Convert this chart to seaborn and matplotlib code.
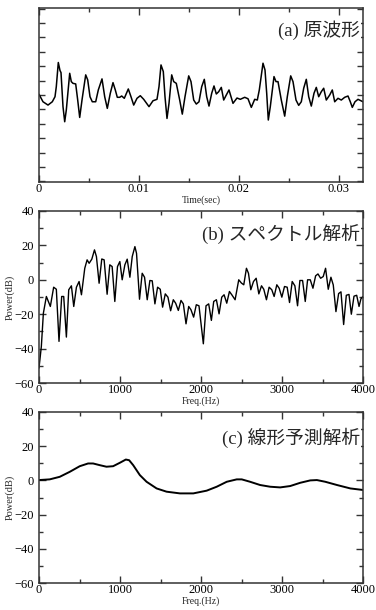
import numpy as np
import pandas as pd
import seaborn as sns
import matplotlib
matplotlib.use("Agg")
import matplotlib.pyplot as plt
from matplotlib.ticker import MultipleLocator, FuncFormatter

# ---------------- data ----------------
# (a) waveform: time in ms, amplitude (arbitrary units)
wave_t_ms = [0.0, 0.4, 0.9, 1.33, 1.6, 1.73, 1.93, 2.1, 2.2, 2.4, 2.57, 2.73, 3.07, 3.23, 3.4, 3.67,
             3.87, 4.07, 4.3, 4.67, 4.87, 5.1, 5.33, 5.67, 5.93, 6.3, 6.57, 6.83, 7.13, 7.4, 7.63,
             7.83, 8.07, 8.27, 8.53, 8.93, 9.2, 9.47, 9.8, 10.13, 10.47, 11.0, 11.4, 11.8, 12.0,
             12.2, 12.43, 12.6, 12.8, 13.0, 13.27, 13.47, 13.73, 14.07, 14.33, 14.6, 14.97, 15.2,
             15.47, 15.73, 16.0, 16.27, 16.53, 16.77, 17.0, 17.27, 17.5, 17.73, 17.97, 18.23,
             18.47, 18.73, 19.0, 19.4, 19.8, 20.13, 20.57, 20.9, 21.23, 21.57, 21.83, 22.03, 22.4,
             22.6, 22.77, 22.93, 23.13, 23.5, 23.7, 23.9, 24.23, 24.57, 24.83, 25.17, 25.4, 25.7,
             25.97, 26.23, 26.47, 26.73, 26.97, 27.23, 27.5, 27.73, 27.97, 28.23, 28.47, 28.73,
             29.07, 29.33, 29.57, 29.9, 30.23, 30.57, 30.9, 31.13, 31.33, 31.6, 31.9, 32.4]
wave_amp = [0.05, -0.47, -0.70, -0.47, -0.12, 0.58, 2.26, 1.70, 1.56, -0.81, -1.86, -1.05, 1.51,
            0.93, 0.81, 0.77, -0.35, -1.56, -0.35, 1.40, 1.05, -0.12, -0.47, -0.47, 0.35, 1.12,
            -0.12, -0.93, 0.12, 0.86, 0.35, -0.16, -0.16, -0.07, -0.23, 0.42, -0.12, -0.70, -0.23,
            -0.05, -0.30, -0.81, -0.40, -0.30, 0.58, 2.09, 1.63, -0.12, -1.63, -0.58, 1.40, 0.93,
            0.81, -0.35, -1.33, -0.12, 1.33, 0.93, -0.35, -0.63, -0.47, 0.58, 1.09, -0.12, -0.77,
            0.12, 0.63, 0.07, 0.23, 0.53, -0.35, 0.0, 0.35, -0.58, -0.21, -0.30, -0.16, -0.26,
            -0.86, -0.30, -0.35, 0.35, 2.21, 1.74, 0.12, -1.74, -0.81, 1.28, 0.93, 0.93, -0.35,
            -1.47, -0.12, 1.33, 0.93, -0.35, -0.72, -0.47, 0.47, 1.09, -0.12, -0.77, 0.12, 0.53,
            -0.12, 0.23, 0.47, -0.35, 0.0, 0.35, -0.47, -0.23, -0.35, -0.16, -0.07, -0.47, -0.86,
            -0.47, -0.30, -0.47]

# (b) FFT spectrum: Hz, dB
spec_f = [0, 29, 54, 91, 140, 181, 214, 247, 280, 305, 338, 367, 400, 429, 462, 495, 524, 565,
          594, 619, 652, 685, 709, 742, 775, 804, 841, 874, 903, 936, 969, 998, 1027, 1060, 1089,
          1122, 1151, 1184, 1204, 1241, 1274, 1303, 1336, 1369, 1398, 1431, 1464, 1497, 1526,
          1559, 1592, 1625, 1658, 1687, 1720, 1753, 1782, 1815, 1848, 1876, 1909, 1942, 1975,
          2029, 2062, 2095, 2128, 2157, 2190, 2223, 2256, 2285, 2318, 2351, 2380, 2421, 2466,
          2499, 2528, 2561, 2586, 2615, 2648, 2681, 2714, 2747, 2775, 2808, 2841, 2874, 2903,
          2936, 2965, 2998, 3031, 3064, 3093, 3126, 3159, 3192, 3221, 3254, 3287, 3316, 3349,
          3382, 3415, 3444, 3477, 3509, 3538, 3571, 3604, 3633, 3666, 3699, 3728, 3761, 3794,
          3827, 3856, 3889, 3922, 3951, 3975, 4000]
spec_db = [-51.3, -38.7, -19.4, -9.7, -15.5, -4.3, -5.5, -35.8, -9.7, -9.7, -33.3, -5.8, -3.5,
           -15.5, -4.3, -1.0, -8.7, 6.7, 11.6, 9.6, 12.0, 17.4, 13.5, -2.0, 12.1, 11.6, -8.4, 8.7,
           7.7, -12.6, 7.7, 10.6, 0.0, 8.7, 12.0, 1.5, 13.5, 19.3, 15.4, -11.3, 3.8, 1.5, -11.6,
           -0.4, -0.6, -14.0, -4.3, -5.5, -15.9, -8.2, -10.1, -18.0, -11.6, -13.6, -17.8, -12.0,
           -14.0, -25.6, -15.5, -17.4, -21.7, -14.5, -15.1, -37.2, -15.1, -14.0, -23.6, -12.6,
           -11.6, -19.8, -10.1, -8.7, -13.6, -6.8, -8.7, -11.6, 0.0, -1.9, -2.9, 6.7, 3.8, -5.8,
           -1.0, 0.9, -8.2, -3.5, -5.5, -11.6, -4.3, -5.8, -9.7, -2.9, -4.9, -10.1, -3.9, -4.3,
           -13.2, -1.0, -3.5, -15.1, -0.4, -0.4, -12.6, 0.0, 0.0, -4.9, 2.3, 3.4, 0.9, 1.9, 6.7,
           -5.5, 1.5, -3.0, -18.5, -8.0, -7.0, -26.0, -9.0, -8.5, -20.0, -9.5, -9.0, -15.5,
           -11.0, -9.7]

# (c) LPC envelope: Hz, dB
lpc_f = [0, 132, 256, 379, 503, 606, 668, 751, 833, 915, 998, 1072, 1113, 1163, 1245, 1328,
         1452, 1575, 1740, 1905, 2070, 2194, 2318, 2441, 2503, 2606, 2730, 2854, 2977, 3101,
         3225, 3349, 3431, 3534, 3679, 3844, 4000]
lpc_db = [0.2, 0.6, 2.1, 5.0, 8.3, 9.9, 9.9, 8.9, 8.0, 8.3, 10.3, 12.2, 11.8, 8.9, 3.1, -0.8,
          -4.7, -6.6, -7.6, -7.6, -6.0, -3.7, -0.8, 0.6, 0.6, -0.8, -2.7, -3.7, -4.1, -3.3, -1.4,
          0.0, 0.2, -0.8, -2.7, -4.7, -5.6]

titles = ["(a) 原波形", "(b) スペクトル解析", "(c) 線形予測解析"]
xlabels = ["Time(sec)", "Freq.(Hz)", "Freq.(Hz)"]
ylabel_power = "Power(dB)"

# ---------------- style ----------------
sns.set_style("ticks")
plt.rcParams["font.family"] = ["Liberation Serif", "Noto Sans CJK JP", "DejaVu Sans"]
plt.rcParams["axes.linewidth"] = 1.1
plt.rcParams["axes.edgecolor"] = "#333333"

W, H = 376, 610
fig = plt.figure(figsize=(W / 100, H / 100), dpi=100)

def ax_rect(top, bottom, left=39, right=363):
    return [left / W, 1 - bottom / H, (right - left) / W, (bottom - top) / H]

ax_a = fig.add_axes(ax_rect(8, 182))
ax_b = fig.add_axes(ax_rect(211, 383))
ax_c = fig.add_axes(ax_rect(412, 583))

df_a = pd.DataFrame({"t": np.array(wave_t_ms) / 1000.0, "amp": wave_amp})
df_b = pd.DataFrame({"f": spec_f, "db": spec_db})
df_c = pd.DataFrame({"f": lpc_f, "db": lpc_db})

sns.lineplot(data=df_a, x="t", y="amp", ax=ax_a, color="black", lw=1.1, estimator=None, sort=False)
sns.lineplot(data=df_b, x="f", y="db", ax=ax_b, color="black", lw=1.0, estimator=None, sort=False)
sns.lineplot(data=df_c, x="f", y="db", ax=ax_c, color="black", lw=1.4, estimator=None, sort=False)

tick_kw = dict(direction="in", top=True, right=True, colors="#333333", labelcolor="black")

# (a)
ax_a.set_xlim(0, 0.0324)
ax_a.set_ylim(-6.05, 6.05)
ax_a.xaxis.set_major_locator(MultipleLocator(0.01))
ax_a.xaxis.set_minor_locator(MultipleLocator(0.005))
ax_a.yaxis.set_major_locator(MultipleLocator(1))
ax_a.tick_params(which="major", length=5, width=1, labelsize=9, pad=1, **tick_kw)
ax_a.tick_params(which="minor", length=3, width=1, **tick_kw)
ax_a.tick_params(axis="y", which="major", length=4, labelleft=False)
ax_a.xaxis.set_major_formatter(FuncFormatter(lambda v, p: "0" if abs(v) < 1e-12 else f"{v:g}"))
ax_a.set_xlabel(xlabels[0], fontsize=7, labelpad=0)
ax_a.set_ylabel("")

for ax, lab in ((ax_b, xlabels[1]), (ax_c, xlabels[2])):
    ax.set_xlim(0, 4000)
    ax.set_ylim(-60, 40)
    ax.xaxis.set_major_locator(MultipleLocator(1000))
    ax.xaxis.set_minor_locator(MultipleLocator(500))
    ax.yaxis.set_major_locator(MultipleLocator(20))
    ax.yaxis.set_minor_locator(MultipleLocator(10))
    ax.tick_params(which="major", length=5, width=1, labelsize=9, pad=1, **tick_kw)
    ax.tick_params(axis="y", which="major", pad=3.5)
    ax.tick_params(which="minor", length=3, width=1, **tick_kw)
    ax.set_xlabel(lab, fontsize=7, labelpad=0)
    ax.set_ylabel(ylabel_power, fontsize=7.5, labelpad=0)

title_y = [0.87, 0.87, 0.85]
for ax, title, ty in zip((ax_a, ax_b, ax_c), titles, title_y):
    ax.text(0.99, ty, title, transform=ax.transAxes, ha="right", va="center",
            fontsize=13.5, family=["Liberation Serif", "Noto Sans CJK JP"],
            bbox=dict(facecolor="white", edgecolor="none", pad=0.5))

fig.savefig("out.png", dpi=100)
